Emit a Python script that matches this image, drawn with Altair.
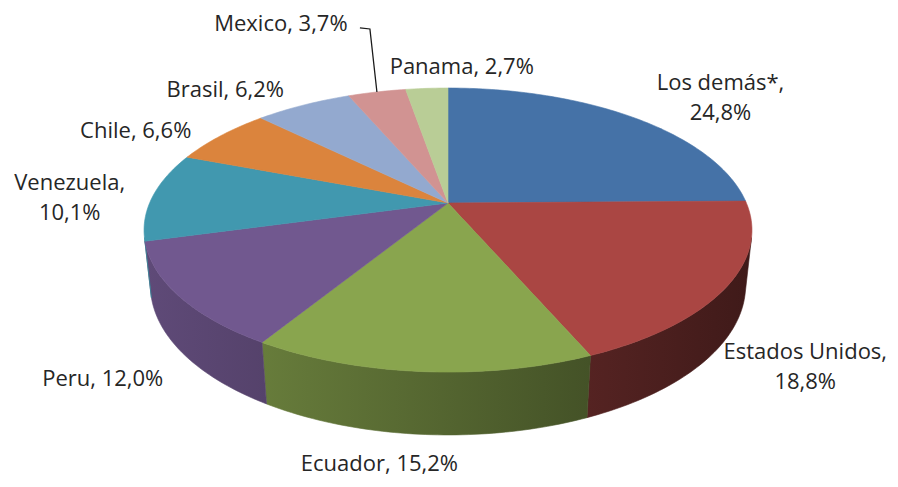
import math
import altair as alt
import pandas as pd

# ---------------- data ----------------
categories = ["Los demás*", "Estados Unidos", "Ecuador", "Peru", "Venezuela",
              "Chile", "Brasil", "Mexico", "Panama"]
shares = [24.8, 18.8, 15.2, 12.0, 10.1, 6.6, 6.2, 3.7, 2.7]
share_text = ["24,8%", "18,8%", "15,2%", "12,0%", "10,1%", "6,6%", "6,2%", "3,7%", "2,7%"]
colors = ["#4572A7", "#AA4643", "#89A54E", "#71588F", "#4198AF",
          "#DB843D", "#93A9CF", "#D19392", "#B9CD96"]
label_sep = [",\n", ",\n", ", ", ", ", ",\n", ", ", ", ", ", ", ", "]

# ---------------- layout (3-D perspective pie model) ----------------
W, H = 882, 471
CX, CY = 440.0, 195.0          # projected pie centre (plot px)
FOC, DIST = 1392.0, 4.665      # perspective focal length / camera distance
COS_T, SIN_T = 0.8886, 0.4587  # tilt of the pie
THICK = 0.21                   # pie thickness (radius units)
# label offsets (first line centre) from each slice's outer edge point (px)
label_nudge = [(88, -34), (78, 66), (-42, 92), (-76, 83), (-83, -13),
               (-85, -5), (-78, -15), (-96, -68), (35, -21)]

PROJ = dict(type="identity", scale=1, translate=[0, 0], reflectY=False)


def project(phi_deg, r=1.0, t=0.0):
    phi = math.radians(phi_deg)
    u, w = r * math.sin(phi), r * math.cos(phi)
    den = DIST + w * COS_T + t * SIN_T
    return [round(CX + FOC * u / den, 2), round(CY - FOC * (w * SIN_T - t * COS_T) / den, 2)]


def arc(a, b, r=1.0, t=0.0):
    n = max(2, int(math.ceil(abs(b - a) / 1.0)) + 1)
    return [project(a + (b - a) * i / (n - 1), r, t) for i in range(n)]


def darken(hexc, f):
    r, g, b = (int(hexc[i:i + 2], 16) for i in (1, 3, 5))
    return "#%02x%02x%02x" % tuple(max(0, min(255, int(round(v * f)))) for v in (r, g, b))


def shade_factor(x):
    f = 0.84 - 0.48 * (x - 140) / (760 - 140)
    return max(0.34, min(0.86, f))


total = sum(shares)
starts, ends = [], []
cum = 0.0
for s in shares:
    starts.append(cum / total * 360)
    cum += s
    ends.append(cum / total * 360)

# visible part of the cylinder wall
vis = math.degrees(math.acos(-1.0 / (DIST * COS_T)))
vis_a, vis_b = vis, 360 - vis

layers = []
# --- side walls ---
for name, col, a, b in zip(categories, colors, starts, ends):
    lo, hi = max(a, vis_a), min(b, vis_b)
    if hi <= lo:
        continue
    top = arc(lo, hi, 1.0, 0.0)
    bot = arc(hi, lo, 1.0, THICK)
    ring = top + bot + [top[0]]
    xs = [p[0] for p in ring]
    c0 = darken(col, shade_factor(min(xs)))
    c1 = darken(col, shade_factor(max(xs)))
    grad = alt.LinearGradient(
        gradient="linear", x1=0, x2=1, y1=0, y2=0,
        stops=[alt.GradientStop(offset=0, color=c0), alt.GradientStop(offset=1, color=c1)])
    feat = {"type": "Feature", "properties": {"name": name},
            "geometry": {"type": "Polygon", "coordinates": [ring]}}
    layers.append(
        alt.Chart(alt.Data(values=[feat])).mark_geoshape(
            fill=grad, stroke=grad, strokeWidth=0.6).project(**PROJ)
    )

# --- top faces ---
top_feats = []
for name, a, b in zip(categories, starts, ends):
    c = project(0, 0.0)
    ring = [c] + arc(a, b) + [c]
    top_feats.append({"type": "Feature", "properties": {"name": name},
                      "geometry": {"type": "Polygon", "coordinates": [ring]}})
cscale = alt.Scale(domain=categories, range=colors)
layers.append(
    alt.Chart(alt.Data(values=top_feats)).mark_geoshape(strokeWidth=0.6).encode(
        color=alt.Color("properties.name:N", scale=cscale, legend=None),
        stroke=alt.Stroke("properties.name:N", scale=cscale, legend=None),
    ).project(**PROJ)
)

# --- labels ---
rows = []
for name, pt, a, b, sep, (dx, dy) in zip(categories, share_text, starts, ends, label_sep, label_nudge):
    ex, ey = project((a + b) / 2, 1.0)
    rows.append({"lon": ex + dx, "lat": ey + dy, "label": name + sep + pt})
lab_df = pd.DataFrame(rows)
layers.append(
    alt.Chart(lab_df).mark_text(font="Open Sans", fontSize=22, color="#262626",
                                lineBreak="\n", lineHeight=30, align="center",
                                baseline="middle").encode(
        longitude="lon:Q", latitude="lat:Q", text="label:N"
    ).project(**PROJ)
)

# --- leader line for Mexico ---
mi = categories.index("Mexico")
mx, my = project((starts[mi] + ends[mi]) / 2, 1.0)
lead = pd.DataFrame({
    "lon": [mx - 17, mx - 7, mx],
    "lat": [my - 64, my - 63, my],
    "o": [0, 1, 2],
})
layers.append(
    alt.Chart(lead).mark_line(color="#1a1a1a", strokeWidth=1.3).encode(
        longitude="lon:Q", latitude="lat:Q", order="o:Q"
    ).project(**PROJ)
)

chart = alt.layer(*layers).properties(
    width=W, height=H, padding=0, background="white"
).configure_view(stroke=None)

chart.save("out.html", embed_options={"renderer": "svg", "actions": False})
